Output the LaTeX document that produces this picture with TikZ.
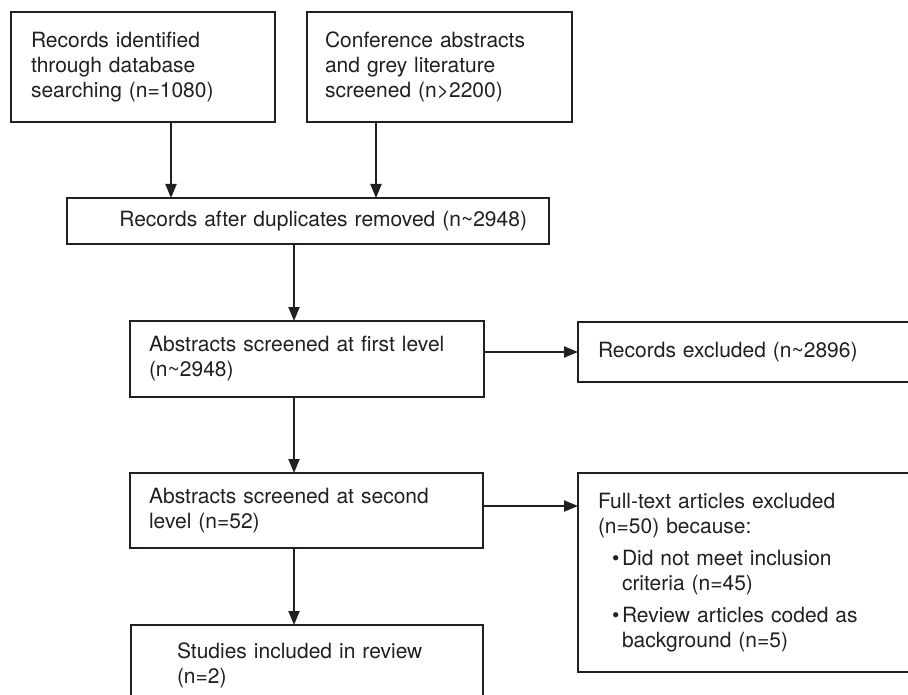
\documentclass[tikz,border=0pt]{standalone}
\usepackage{fontspec}
\setmainfont{TeX Gyre Heros}
\usetikzlibrary{arrows.meta}
\definecolor{ink}{HTML}{231F20}
\newcommand\flowfont{\fontsize{21}{25}\selectfont}

\begin{document}
\begin{tikzpicture}[x=1pt, y=-1pt, >={Triangle[length=14pt,width=11pt]},
   box/.style={rectangle, draw=ink, line width=1.4pt, text=ink, font=\flowfont,
      align=left, anchor=north west, inner ysep=0pt, outer sep=0pt},
   flow/.style={draw=ink, line width=2pt}]
   \useasboundingbox (0,0) rectangle (908,695);

   \node (ident) at (11,12) [box, inner xsep=20pt, text width=224pt, minimum height=110pt] {Records identified\\
through database\\
searching (n=1080)};
   \node (grey) at (307,12) [box, inner xsep=18pt, text width=229pt, minimum height=110pt] {Conference abstracts\\
and grey literature\\
screened (n>2200)};
   \node (dup) at (67,198) [box, align=right, inner xsep=22pt, text width=438pt, minimum height=46pt] {Records after duplicates removed (n\textasciitilde2948)};
   \node (first) at (130,321) [box, inner xsep=19pt, text width=316pt, minimum height=76pt] {Abstracts screened at first level\\
(n\textasciitilde2948)};
   \node (excl1) at (578,322) [box, inner xsep=20pt, text width=300pt, minimum height=60pt] {Records excluded (n\textasciitilde2896)};
   \node (second) at (130,473) [box, inner xsep=19pt, text width=315pt, minimum height=75pt] {Abstracts screened at second\\
level (n=52)};
   \node (excl2) at (578,473) [box, inner xsep=20pt, text width=300pt, minimum height=199pt] {Full-text articles excluded\\
(n=50) because:\\[7pt]
\hspace*{14pt}\makebox[10pt][l]{\textbullet}Did not meet inclusion\\
\hspace*{24pt}criteria (n=45)\\[7pt]
\hspace*{14pt}\makebox[10pt][l]{\textbullet}Review articles coded as\\
\hspace*{24pt}background (n=5)};
   \node (incl) at (131,625) [box, inner xsep=46pt, text width=260pt, minimum height=80pt] {Studies included in review\\
(n=2)};

   \draw ([xshift=28pt]ident.south)[flow, ->] -- ([xshift=28pt]ident.south |- dup.north);
   \draw ([xshift=-63.5pt]grey.south)[flow, ->] -- ([xshift=-63.5pt]grey.south |- dup.north);
   \draw ([xshift=-14pt]dup.south)[flow, ->] -- ([xshift=-14pt]dup.south |- first.north);
   \draw ([xshift=-13pt]first.south)[flow, ->] -- ([xshift=-13pt]first.south |- second.north);
   \draw ([xshift=-12.5pt]second.south)[flow, ->] -- ([xshift=-12.5pt]second.south |- incl.north);
   \draw (first.east |- excl1.west)[flow, ->] -- (excl1.west);
   \draw ([yshift=4.5pt]second.east)[flow, ->] -- ([yshift=4.5pt]second.east -| excl2.west);

\end{tikzpicture}
\end{document}
